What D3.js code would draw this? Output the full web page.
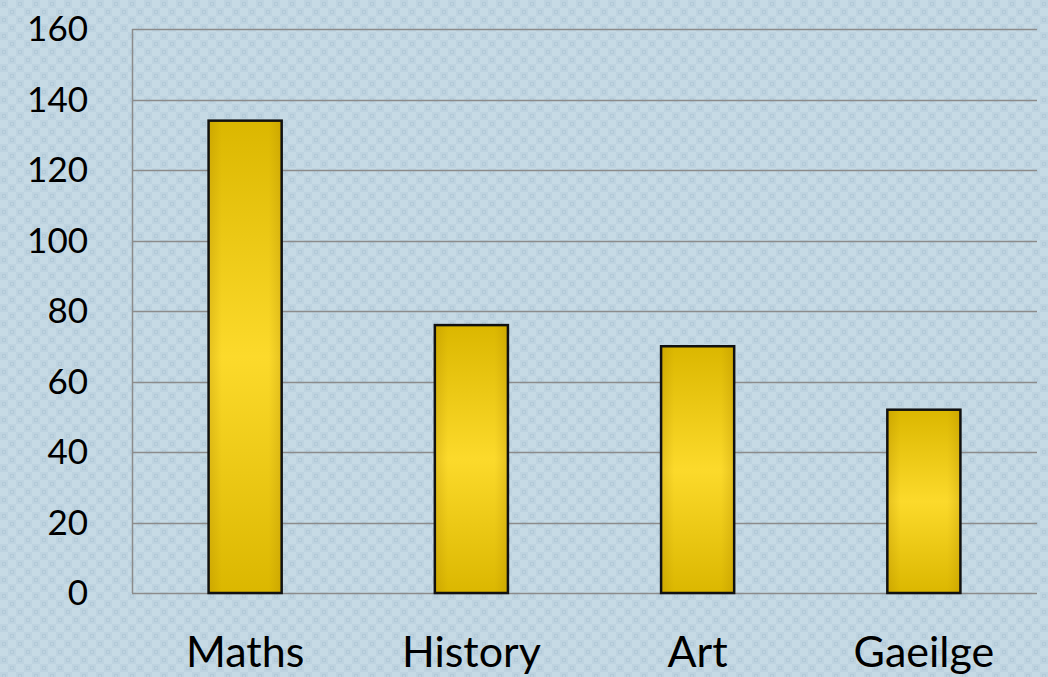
<!DOCTYPE html>
<html>
<head>
<meta charset="utf-8">
<script src="https://cdn.jsdelivr.net/npm/d3@7"></script>
<style>
  body { margin: 0; padding: 0; }
  svg { display: block; }
</style>
</head>
<body>
<svg></svg>
<script>
var subjects = ["Maths", "History", "Art", "Gaeilge"];
var counts = [134, 76, 70, 52];
var yTicks = [0, 20, 40, 60, 80, 100, 120, 140, 160];

var screen = { width: 1048, height: 677 };
var margins = { top: 29, bottom: 84, left: 132, right: 11 };

var svg = d3.select("svg")
  .attr("width", screen.width)
  .attr("height", screen.height);

var defs = svg.append("defs");

// background texture
var pat = defs.append("pattern")
  .attr("id", "bgpat")
  .attr("patternUnits", "userSpaceOnUse")
  .attr("width", 16)
  .attr("height", 16);
pat.append("rect").attr("width", 16).attr("height", 16).attr("fill", "#c6dae5");
pat.append("rect").attr("x", 0).attr("y", 0).attr("width", 8).attr("height", 8).attr("fill", "#bed3e0");
pat.append("rect").attr("x", 8).attr("y", 8).attr("width", 8).attr("height", 8).attr("fill", "#bed3e0");
pat.append("rect").attr("x", 2.5).attr("y", 2.5).attr("width", 3).attr("height", 3)
  .attr("fill", "none").attr("stroke", "#b3cad8").attr("stroke-width", 1);
pat.append("rect").attr("x", 10.5).attr("y", 10.5).attr("width", 3).attr("height", 3)
  .attr("fill", "none").attr("stroke", "#b3cad8").attr("stroke-width", 1);

var vgrad = defs.append("linearGradient")
  .attr("id", "barV").attr("x1", 0).attr("y1", 0).attr("x2", 0).attr("y2", 1);
vgrad.append("stop").attr("offset", "0%").attr("stop-color", "#dbb700");
vgrad.append("stop").attr("offset", "50%").attr("stop-color", "#fcda2b");
vgrad.append("stop").attr("offset", "100%").attr("stop-color", "#dbb700");

var hgrad = defs.append("linearGradient")
  .attr("id", "barH").attr("x1", 0).attr("y1", 0).attr("x2", 1).attr("y2", 0);
hgrad.append("stop").attr("offset", "0%").attr("stop-color", "#a07800").attr("stop-opacity", 0.25);
hgrad.append("stop").attr("offset", "18%").attr("stop-color", "#a07800").attr("stop-opacity", 0);
hgrad.append("stop").attr("offset", "82%").attr("stop-color", "#a07800").attr("stop-opacity", 0);
hgrad.append("stop").attr("offset", "100%").attr("stop-color", "#a07800").attr("stop-opacity", 0.25);

svg.append("rect")
  .attr("width", screen.width)
  .attr("height", screen.height)
  .attr("fill", "url(#bgpat)");

var boxWidth = screen.width - margins.left - margins.right;
var boxHeight = screen.height - margins.top - margins.bottom;

var xScale = d3.scaleBand()
  .domain(subjects)
  .range([0, boxWidth])
  .paddingInner(0.677)
  .paddingOuter(0.3385);

var yScale = d3.scaleLinear()
  .domain([0, 160])
  .range([boxHeight, 0]);

var plot = svg.append("g")
  .attr("transform", "translate(" + margins.left + "," + margins.top + ")");

// gridlines
plot.selectAll(".grid")
  .data(yTicks)
  .enter()
  .append("line")
  .attr("x1", 0)
  .attr("x2", boxWidth)
  .attr("y1", function(d) { return Math.round(yScale(d)) + 0.5; })
  .attr("y2", function(d) { return Math.round(yScale(d)) + 0.5; })
  .attr("stroke", "#8c8c8c")
  .attr("stroke-width", 1.5);

plot.append("line")
  .attr("x1", 0.5).attr("x2", 0.5)
  .attr("y1", 0).attr("y2", boxHeight)
  .attr("stroke", "#8c8c8c")
  .attr("stroke-width", 1.5);

// bars
var bars = plot.selectAll(".bar")
  .data(counts)
  .enter()
  .append("g");

bars.append("rect")
  .attr("x", function(d, i) { return xScale(subjects[i]); })
  .attr("y", function(d) { return yScale(d); })
  .attr("width", xScale.bandwidth())
  .attr("height", function(d) { return boxHeight - yScale(d); })
  .attr("fill", "url(#barV)");

bars.append("rect")
  .attr("x", function(d, i) { return xScale(subjects[i]); })
  .attr("y", function(d) { return yScale(d); })
  .attr("width", xScale.bandwidth())
  .attr("height", function(d) { return boxHeight - yScale(d); })
  .attr("fill", "url(#barH)")
  .attr("stroke", "#111")
  .attr("stroke-width", 2.5);

// y tick labels
svg.append("g")
  .selectAll("text")
  .data(yTicks)
  .enter()
  .append("text")
  .attr("x", 88)
  .attr("y", function(d) { return margins.top + yScale(d); })
  .attr("dy", "0.35em")
  .attr("text-anchor", "end")
  .attr("font-family", "Lato, 'Open Sans', sans-serif")
  .attr("font-size", 35)
  .attr("fill", "#000")
  .text(function(d) { return d; });

// category labels
svg.append("g")
  .selectAll("text")
  .data(subjects)
  .enter()
  .append("text")
  .attr("x", function(d) { return margins.left + xScale(d) + xScale.bandwidth() / 2; })
  .attr("y", 667)
  .attr("text-anchor", "middle")
  .attr("font-family", "Lato, 'Open Sans', sans-serif")
  .attr("font-size", 43)
  .attr("fill", "#000")
  .text(function(d) { return d; });
</script>
</body>
</html>
